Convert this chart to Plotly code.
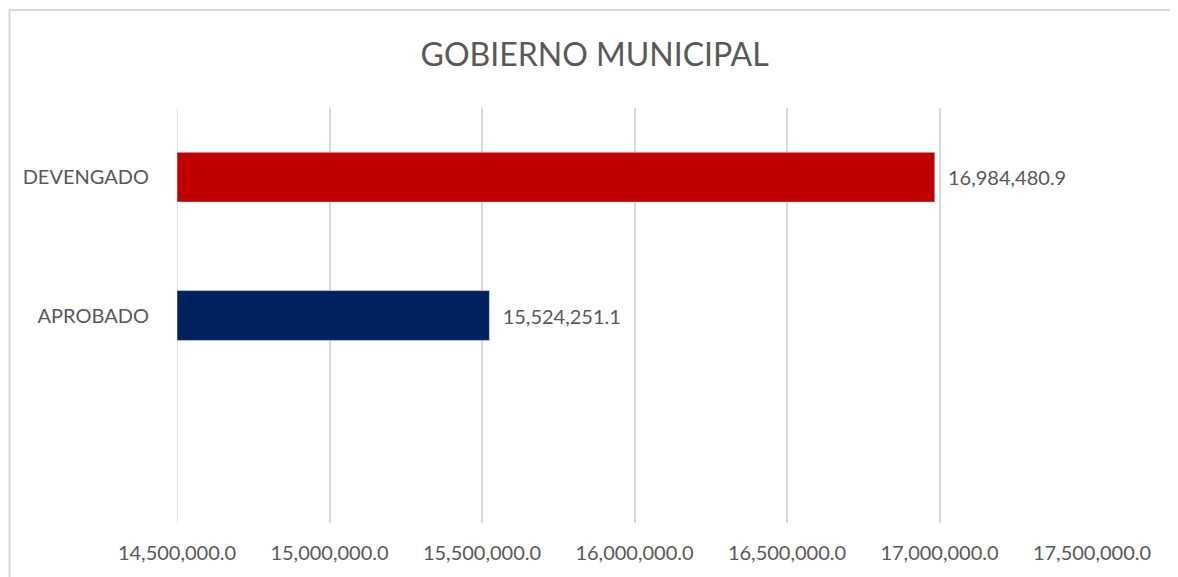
import plotly.graph_objects as go

# datos
categorias = ["APROBADO", "DEVENGADO"]
valores = [15524251.1, 16984480.9]
colores = ["#002060", "#C00000"]
ticks_x = [14500000, 15000000, 15500000, 16000000, 16500000, 17000000, 17500000]
inicio = 14500000

fuente = "Lato, Carlito, Calibri, sans-serif"
gris = "#595959"
linea = "#D9D9D9"

# las barras arrancan en el inicio del eje (14.5M)
fig = go.Figure(go.Bar(
    x=[v - inicio for v in valores], y=categorias, base=inicio,
    orientation="h", marker_color=colores, width=0.36,
    text=["\u00a0\u00a0" + f"{v:,.1f}" for v in valores],
    textposition="outside",
    textfont=dict(family=fuente, size=20, color=gris),
    cliponaxis=False,
))

# la página tiene 8px de margen en el body, se compensa en los márgenes
fig.update_layout(
    width=1178, height=577,
    paper_bgcolor="white", plot_bgcolor="white",
    margin=dict(l=169, r=94, t=100, b=62),
    title=dict(text="GOBIERNO MUNICIPAL", x=0.498, xanchor="center",
               y=0.9185, yanchor="middle",
               font=dict(family=fuente, size=32, color=gris)),
    showlegend=False,
    xaxis=dict(range=[inicio, 17500000], tickvals=ticks_x,
               tickformat=",.1f", showgrid=True, gridcolor=linea,
               gridwidth=1.5, zeroline=False, showline=False,
               automargin=False, ticklabelstandoff=16,
               tickfont=dict(family=fuente, size=20, color=gris)),
    yaxis=dict(range=[-1.5, 1.5], showgrid=False, zeroline=False,
               showline=False, ticks="", automargin=False,
               ticklabelstandoff=27,
               tickfont=dict(family=fuente, size=20, color=gris)),
    shapes=[
        # marco del gráfico (solo arriba e izquierda quedan dentro de la imagen)
        dict(type="line", xref="paper", yref="paper",
             x0=-0.183, x1=1.2, y0=1.236, y1=1.236,
             line=dict(color=linea, width=2), layer="below"),
        dict(type="line", xref="paper", yref="paper",
             x0=-0.183, x1=-0.183, y0=-0.3, y1=1.236,
             line=dict(color=linea, width=2), layer="below"),
        # línea de cuadrícula en el borde izquierdo
        dict(type="line", xref="x", yref="paper", x0=inicio, x1=inicio,
             y0=0, y1=1, line=dict(color=linea, width=1.5),
             layer="below"),
    ],
)

fig.write_html("out.html")
